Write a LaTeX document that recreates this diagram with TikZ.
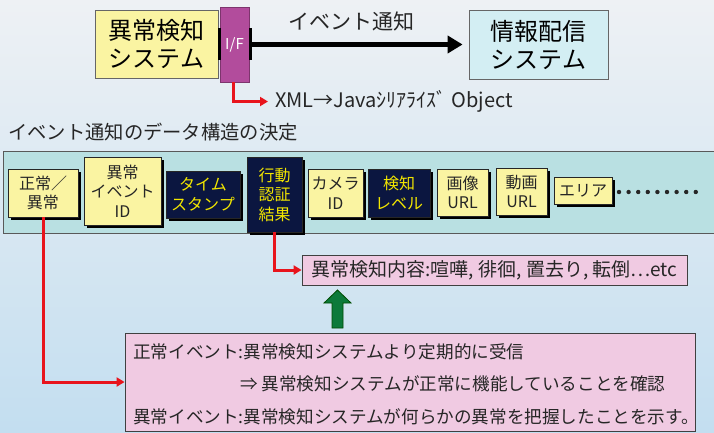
\documentclass[tikz,border=0pt]{standalone}
\usepackage{fontspec}
\setmainfont{Noto Sans CJK JP}
\usetikzlibrary{arrows.meta,shadows}
\definecolor{skytop}{HTML}{EEF1F4}
\definecolor{skybot}{HTML}{C3DEF0}
\definecolor{boxyellow}{HTML}{FAF4A2}
\definecolor{boxcyan}{HTML}{D3EEF3}
\definecolor{ifmag}{HTML}{B24C9C}
\definecolor{bandcyan}{HTML}{B9E0E2}
\definecolor{navy}{HTML}{0B1640}
\definecolor{navytext}{HTML}{F2E600}
\definecolor{linered}{HTML}{E8141C}
\definecolor{boxpink}{HTML}{F0CAE2}
\definecolor{arrgreen}{HTML}{0C7A3A}
\tikzset{
  bigbox/.style={draw=black!60, line width=0.8pt, align=center, inner sep=0pt,
    font=\fontsize{24}{28}\selectfont},
  cell/.style={draw=black!85, line width=0.7pt, align=center, inner sep=0pt,
    font=\fontsize{16}{19.5}\selectfont,
    drop shadow={shadow xshift=2.5pt, shadow yshift=-2.5pt, opacity=1, fill=black}},
  ycell/.style={cell, fill=boxyellow, text=black!85},
  ncell/.style={cell, fill=navy, text=navytext},
  redline/.style={draw=linered, line width=3pt, -{Triangle[length=8pt,width=9pt]}},
  pinkbox/.style={draw=black!75, fill=boxpink, line width=0.8pt, inner sep=0pt},
  txt/.style={inner sep=0pt, text=black!85, font=\fontsize{17.6}{20}\selectfont}
}
\begin{document}
\begin{tikzpicture}[x=1pt,y=-1pt]
\useasboundingbox (0,0) rectangle (714,432);
\shade[top color=skytop, bottom color=skybot] (0,0) rectangle (714,432);
% top row
\node[bigbox, fill=boxyellow, minimum width=123pt, minimum height=68pt] (sys1) at (156.5,44) {異常検知\\システム};
\node[draw=ifmag!70!black, fill=ifmag, line width=0.6pt, minimum width=29pt, minimum height=75pt, inner sep=0pt,
  text=white, font=\fontsize{15}{18}\selectfont] (if) at (234.5,44.5) {I/F};
\fill[black] (217.5,28) rectangle (220.5,60);
\fill[black] (248.5,28) rectangle (251.5,60);
\node[bigbox, fill=boxcyan, minimum width=139pt, minimum height=69pt] (sys2) at (538.5,44.5) {情報配信\\システム};
\draw[line width=4.5pt, -{Triangle[length=15pt,width=17pt]}, shorten >=6pt] ([xshift=1pt]if.east) -- (sys2.west);
\node[txt, font=\fontsize{21}{24}\selectfont] (evlabel) at (351,21) {イベント通知};
\node[txt, anchor=west, font=\fontsize{20}{23}\selectfont] (xml) at (275,101.5) {XML→Javaｼﾘｱﾗｲｽﾞ Object};
\draw[redline, shorten >=7pt] ([xshift=-1.5pt]if.south) |- (xml.west);
% title
\node[txt, anchor=west, font=\fontsize{19.3}{22}\selectfont] (title) at (8,132) {イベント通知のデータ構造の決定};
% band
\draw[fill=bandcyan, draw=black!65, line width=0.8pt] (3,151) rectangle (716,233);
\node[ycell, minimum width=70pt, minimum height=48pt] (ne) at (43,193) {正常／\\異常};
\node[ycell, minimum width=77pt, minimum height=68pt] (evid) at (122.5,191) {異常\\イベント\\ID};
\node[ncell, minimum width=74pt, minimum height=47pt] (ts) at (203,194.5) {タイム\\スタンプ};
\node[ncell, minimum width=55pt, minimum height=75pt] (act) at (274.5,194.5) {行動\\認証\\結果};
\node[ycell, minimum width=55pt, minimum height=48pt] (cam) at (335.5,193) {カメラ\\ID};
\node[ncell, minimum width=62pt, minimum height=48pt] (lvl) at (399,193) {検知\\レベル};
\node[ycell, minimum width=51pt, minimum height=47pt] (img) at (462.5,192.5) {画像\\URL};
\node[ycell, minimum width=51pt, minimum height=47pt] (mov) at (521.5,191.5) {動画\\URL};
\node[ycell, minimum width=58pt, minimum height=27pt] (area) at (583,190.5) {エリア};
\foreach \i in {0,...,8} {
  \fill[black!85] (619+\i*9.6,192) circle (2.2pt);
}
% detail box
\node[pinkbox, minimum width=385pt, minimum height=30pt, txt, font=\fontsize{19}{22}\selectfont] (detail) at (494.5,270)
  {異常検知内容:喧嘩, 徘徊, 置去り, 転倒…etc};
\draw[redline] (act.south) |- (detail.west);
% big box
\node[pinkbox, minimum width=570pt, minimum height=98pt] (info) at (410,382) {};
\node[txt, anchor=west] (l1) at (133,352) {正常イベント:異常検知システムより定期的に受信};
\node[txt, anchor=west] (l2) at (240,384) {⇒ 異常検知システムが正常に機能していることを確認};
\node[txt, anchor=west] (l3) at (133,417) {異常イベント:異常検知システムが何らかの異常を把握したことを示す。};
\draw[redline] (ne.south) |- (info.west);
% green arrow
\filldraw[fill=arrgreen, draw=black!70!green, line width=0.8pt]
  (332,328) -- (332,303) -- (324,303) -- (337.5,290) -- (351,303) -- (343,303) -- (343,328) -- cycle;
\end{tikzpicture}
\end{document}
